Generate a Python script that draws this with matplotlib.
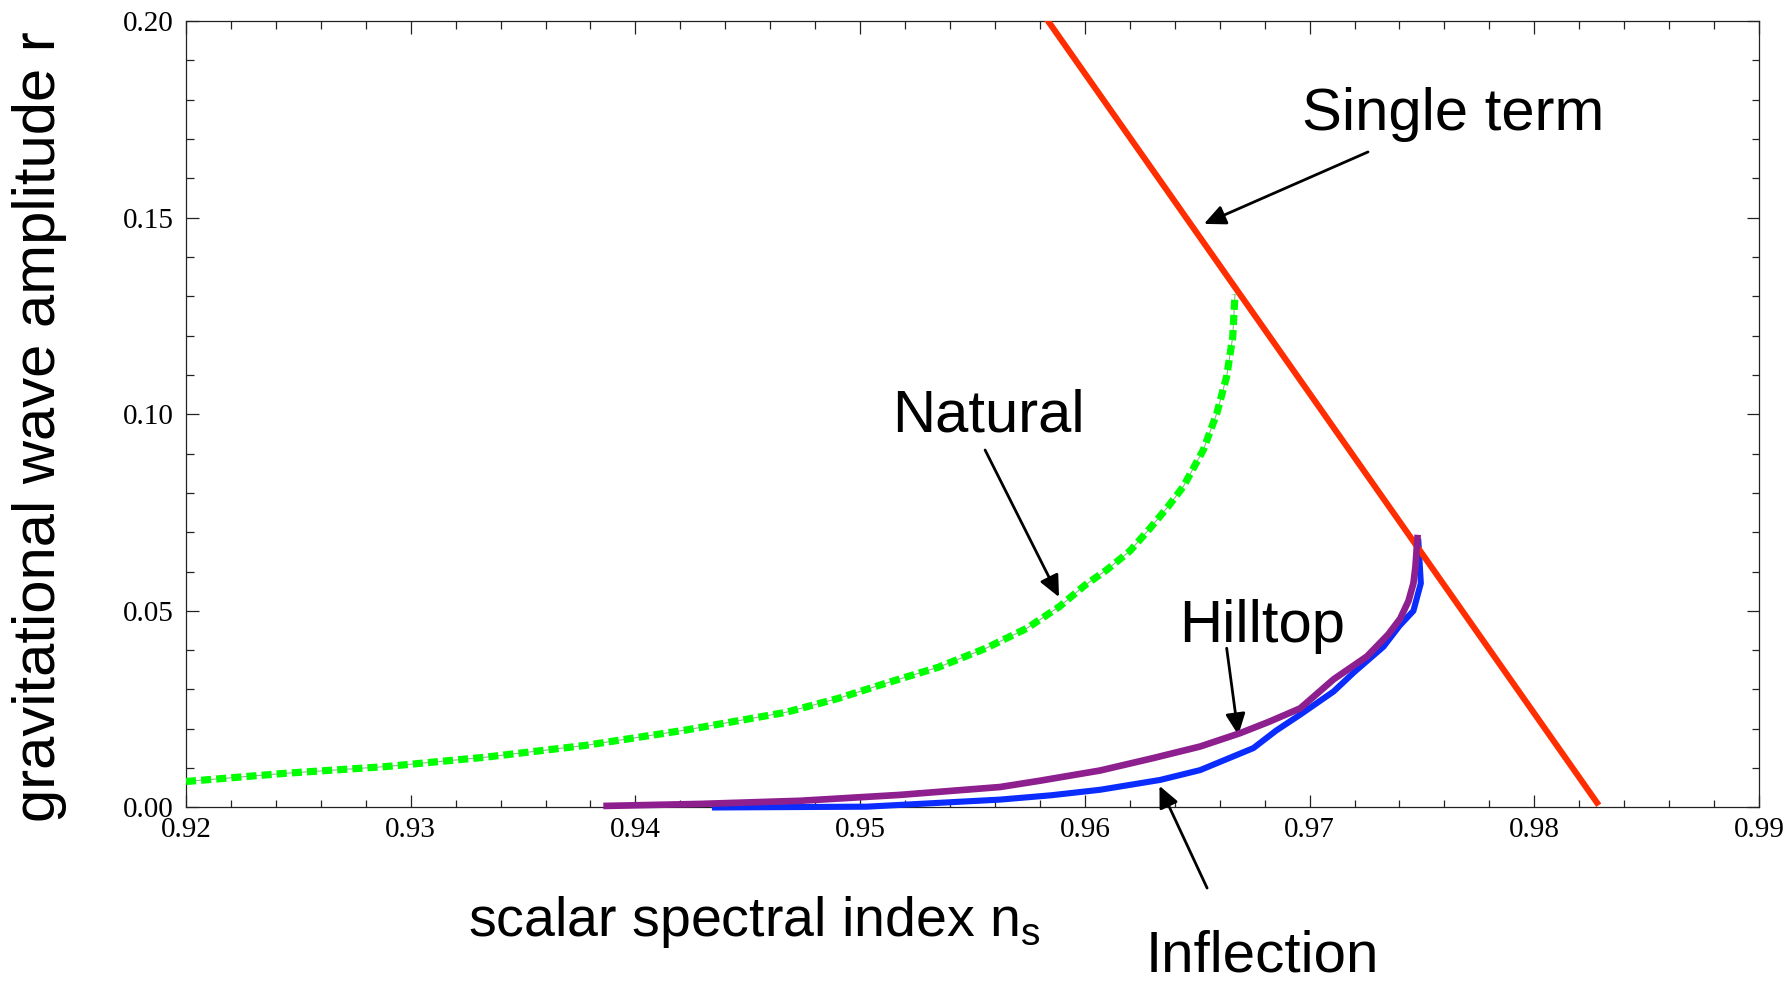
import matplotlib
matplotlib.use("Agg")
import matplotlib.pyplot as plt
from matplotlib.ticker import MultipleLocator, FormatStrFormatter

plt.rcParams['mathtext.fontset'] = 'custom'
plt.rcParams['mathtext.rm'] = 'Liberation Sans'

# single term (straight line)
single_ns = [0.95836, 0.98279]
single_r = [0.200, 0.0012]

# natural inflation (dotted green)
natural_ns = [0.9200, 0.92445, 0.9289, 0.93335, 0.9378, 0.94225, 0.9467, 0.9490,
              0.95115, 0.9535, 0.9556, 0.9574, 0.95885, 0.9600, 0.96097, 0.9620,
              0.9629, 0.9637, 0.96438, 0.96527, 0.96587, 0.96631, 0.96658, 0.96668]
natural_r = [0.0066, 0.0087, 0.0104, 0.0128, 0.0158, 0.0197, 0.0242, 0.0277,
             0.0316, 0.0357, 0.0405, 0.0455, 0.0510, 0.0565, 0.0604, 0.0652,
             0.0710, 0.0765, 0.0816, 0.0909, 0.1002, 0.1096, 0.1197, 0.1305]

# hilltop (purple)
hilltop_ns = [0.93872, 0.94288, 0.94733, 0.95178, 0.95623, 0.9580, 0.96068, 0.9630,
              0.96513, 0.96691, 0.9682, 0.96958, 0.97107, 0.97255, 0.9735, 0.97403,
              0.9744, 0.97462, 0.97471, 0.97480]
hilltop_r = [0.0004, 0.0009, 0.0017, 0.0032, 0.0052, 0.0068, 0.0094, 0.0125,
             0.0155, 0.0189, 0.0218, 0.0252, 0.0326, 0.0384, 0.0440, 0.0480,
             0.0525, 0.0570, 0.0612, 0.0685]

# inflection (blue)
inflect_ns = [0.94354, 0.95029, 0.95623, 0.9585, 0.96068, 0.96335, 0.96513, 0.96750,
              0.9685, 0.96958, 0.97107, 0.9720, 0.97329, 0.9740, 0.97462, 0.97495,
              0.97484]
inflect_r = [0.0000, 0.0002, 0.0020, 0.0031, 0.0045, 0.0070, 0.0095, 0.0151,
             0.0195, 0.0236, 0.0295, 0.0345, 0.0409, 0.0462, 0.0500, 0.0570,
             0.0676]

xticks = [0.92, 0.93, 0.94, 0.95, 0.96, 0.97, 0.98, 0.99]
yticks = [0.00, 0.05, 0.10, 0.15, 0.20]

fig = plt.figure(figsize=(17.9, 9.81), dpi=100)
ax = fig.add_axes([0.1039, 0.1769, 0.8788, 0.8017])

# natural: thin connecting line under thick square dots
ax.plot(natural_ns, natural_r, color='#88bb88', lw=0.8, zorder=2)
ax.plot(natural_ns, natural_r, color='#00ff00', lw=5.2, dashes=(1.4, 0.7),
        solid_capstyle='butt', dash_capstyle='butt', dash_joinstyle='round', zorder=3)

ax.plot(inflect_ns, inflect_r, color='#0a2cff', lw=4.4, clip_on=False,
        solid_joinstyle='round', zorder=4)
ax.plot(hilltop_ns, hilltop_r, color='#8e1f8e', lw=4.8, clip_on=False,
        solid_joinstyle='round', zorder=5)
ax.plot(single_ns, single_r, color='#ff2d00', lw=4.4, zorder=4)

ax.set_xlim(0.92, 0.99)
ax.set_ylim(0.0, 0.20)
ax.set_xticks(xticks)
ax.set_yticks(yticks)
ax.xaxis.set_minor_locator(MultipleLocator(0.002))
ax.yaxis.set_minor_locator(MultipleLocator(0.01))
ax.xaxis.set_major_formatter(FormatStrFormatter('%.2f'))
ax.yaxis.set_major_formatter(FormatStrFormatter('%.2f'))
ax.tick_params(which='both', direction='in', top=True, right=True, color='#222222', width=0.9)
ax.tick_params(which='major', length=9)
ax.tick_params(which='minor', length=5.4)
ax.tick_params(axis='x', which='major', pad=7)
ax.tick_params(axis='y', which='major', pad=9)
for lab in ax.get_xticklabels() + ax.get_yticklabels():
    lab.set_fontfamily('Liberation Serif')
    lab.set_fontsize(21)
for s in ax.spines.values():
    s.set_linewidth(0.9)
    s.set_color('#222222')

sans = 'Liberation Sans'
fig.text(55 / 1790, 1 - 427 / 981, 'gravitational wave amplitude r', rotation=90,
         ha='center', va='baseline', rotation_mode='anchor', fontsize=43, family=sans)
fig.text(468 / 1790, 1 - 936 / 981, r'scalar spectral index n$_\mathrm{s}$',
         ha='left', va='baseline', fontsize=40, family=sans)

ap = dict(arrowstyle='-|>,head_length=0.65,head_width=0.3', color='black', lw=2.0,
          mutation_scale=20, shrinkA=0, shrinkB=0)

ax.text(0.97639, 0.1723, 'Single term', ha='center', va='baseline', fontsize=43, family=sans)
ax.annotate('', xy=(0.96530, 0.1484), xytext=(0.97260, 0.1667), arrowprops=ap)

ax.text(0.95569, 0.0956, 'Natural', ha='center', va='baseline', fontsize=43, family=sans)
ax.annotate('', xy=(0.95885, 0.0535), xytext=(0.95556, 0.0909), arrowprops=ap)

ax.text(0.96789, 0.0421, 'Hilltop', ha='center', va='baseline', fontsize=43, family=sans)
ax.annotate('', xy=(0.96683, 0.0184), xytext=(0.96631, 0.0405), arrowprops=ap)

ax.text(0.96791, -0.0418, 'Inflection', ha='center', va='baseline', fontsize=42,
        family=sans, clip_on=False)
ax.annotate('', xy=(0.96332, 0.0055), xytext=(0.96544, -0.0205), arrowprops=ap,
            annotation_clip=False)

fig.savefig('out.png', dpi=100)
